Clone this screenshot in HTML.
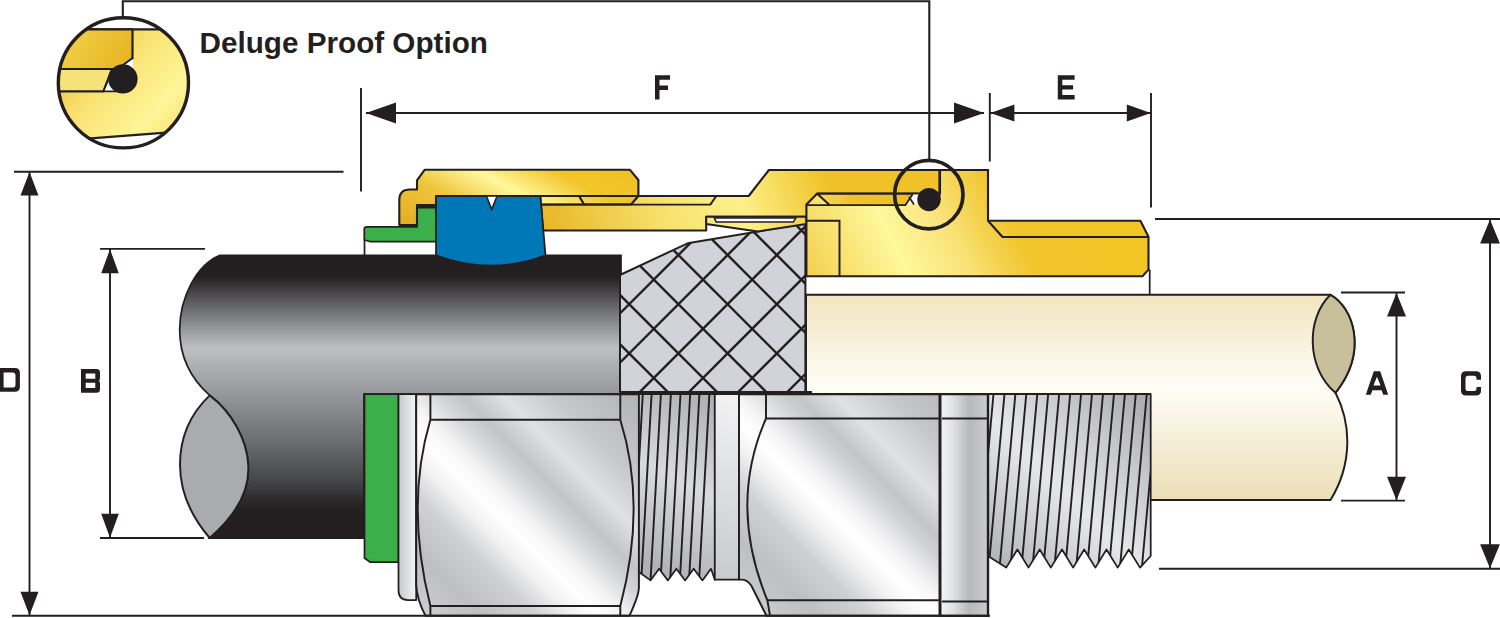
<!DOCTYPE html>
<html><head><meta charset="utf-8"><title>Cable gland</title>
<style>html,body{margin:0;padding:0;background:#fff;}body{width:1500px;height:618px;overflow:hidden;font-family:"Liberation Sans",sans-serif;}svg{display:block}</style>
</head><body>
<svg width="1500" height="618" viewBox="0 0 1500 618">

<defs>
<linearGradient id="gCable" x1="0" y1="255" x2="0" y2="538" gradientUnits="userSpaceOnUse">
 <stop offset="0" stop-color="#231f20"/><stop offset="0.075" stop-color="#231f20"/>
 <stop offset="0.2" stop-color="#727376"/>
 <stop offset="0.328" stop-color="#bdbfc1"/>
 <stop offset="0.477" stop-color="#9a9b9e"/><stop offset="0.656" stop-color="#6d6e71"/>
 <stop offset="0.80" stop-color="#454547"/><stop offset="0.87" stop-color="#2a2829"/>
 <stop offset="0.905" stop-color="#231f20"/><stop offset="1" stop-color="#231f20"/>
</linearGradient>
<linearGradient id="gCream" x1="0" y1="294" x2="0" y2="500" gradientUnits="userSpaceOnUse">
 <stop offset="0" stop-color="#f1e4c0"/><stop offset="0.45" stop-color="#fffdf6"/>
 <stop offset="1" stop-color="#ebdfb6"/>
</linearGradient>
<linearGradient id="gGold1" x1="400" y1="225" x2="473.8" y2="83" gradientUnits="userSpaceOnUse">
 <stop offset="0" stop-color="#e3ad1d"/><stop offset="0.3" stop-color="#efc53c"/><stop offset="0.52" stop-color="#fff89c"/>
 <stop offset="0.74" stop-color="#f2c62a"/><stop offset="1" stop-color="#f0c023"/>
</linearGradient>
<linearGradient id="gGold2" x1="540" y1="250" x2="820" y2="160" gradientUnits="userSpaceOnUse">
 <stop offset="0" stop-color="#e6b31f"/><stop offset="0.45" stop-color="#f8e26f"/>
 <stop offset="0.7" stop-color="#fdf08a"/><stop offset="1" stop-color="#f0c228"/>
</linearGradient>
<linearGradient id="gGold3" x1="780" y1="330" x2="1150" y2="150" gradientUnits="userSpaceOnUse">
 <stop offset="0" stop-color="#eec02a"/><stop offset="0.12" stop-color="#f3d050"/>
 <stop offset="0.34" stop-color="#fff89c"/><stop offset="0.47" stop-color="#f9e37a"/>
 <stop offset="0.62" stop-color="#f1c52d"/><stop offset="1" stop-color="#f2c620"/>
</linearGradient>
<linearGradient id="gStrip" x1="817" y1="0" x2="912" y2="0" gradientUnits="userSpaceOnUse">
 <stop offset="0" stop-color="#f6da5e"/><stop offset="0.35" stop-color="#f0c32c"/><stop offset="1" stop-color="#eebd25"/>
</linearGradient>
<linearGradient id="gGoldC" x1="60" y1="20" x2="190" y2="140" gradientUnits="userSpaceOnUse">
 <stop offset="0" stop-color="#e7b522"/><stop offset="0.45" stop-color="#f9e375"/>
 <stop offset="0.75" stop-color="#fff599"/><stop offset="1" stop-color="#f6dc62"/>
</linearGradient>
<linearGradient id="gGoldCd" x1="60" y1="30" x2="135" y2="70" gradientUnits="userSpaceOnUse">
 <stop offset="0" stop-color="#f3d24a"/><stop offset="1" stop-color="#e5b11f"/>
</linearGradient>
<linearGradient id="gSil1" x1="418" y1="613" x2="640" y2="391" gradientUnits="userSpaceOnUse">
 <stop offset="0" stop-color="#cdcecf"/><stop offset="0.14" stop-color="#bdbfc1"/>
 <stop offset="0.26" stop-color="#d0d1d3"/><stop offset="0.35" stop-color="#f4f4f5"/><stop offset="0.405" stop-color="#ffffff"/>
 <stop offset="0.46" stop-color="#f4f4f5"/><stop offset="0.54" stop-color="#d2d3d5"/><stop offset="0.59" stop-color="#c3c4c6"/>
 <stop offset="0.68" stop-color="#e0e1e2"/><stop offset="0.80" stop-color="#c6c7c9"/>
 <stop offset="1" stop-color="#b0b2b5"/>
</linearGradient>
<linearGradient id="gSil2" x1="752" y1="613" x2="974" y2="391" gradientUnits="userSpaceOnUse">
 <stop offset="0" stop-color="#cdcecf"/><stop offset="0.14" stop-color="#bdbfc1"/>
 <stop offset="0.26" stop-color="#d0d1d3"/><stop offset="0.35" stop-color="#f4f4f5"/><stop offset="0.405" stop-color="#ffffff"/>
 <stop offset="0.46" stop-color="#f4f4f5"/><stop offset="0.54" stop-color="#d2d3d5"/><stop offset="0.59" stop-color="#c3c4c6"/>
 <stop offset="0.68" stop-color="#e0e1e2"/><stop offset="0.80" stop-color="#c6c7c9"/>
 <stop offset="1" stop-color="#b0b2b5"/>
</linearGradient>
<linearGradient id="gSil2r" x1="941" y1="0" x2="988" y2="0" gradientUnits="userSpaceOnUse">
 <stop offset="0" stop-color="#f4f4f5"/><stop offset="0.25" stop-color="#e0e1e2"/><stop offset="0.6" stop-color="#b6b8ba"/><stop offset="1" stop-color="#cbccce"/>
</linearGradient>
<linearGradient id="gStripS" x1="739" y1="394" x2="715" y2="580" gradientUnits="userSpaceOnUse">
 <stop offset="0" stop-color="#f3f3f4"/><stop offset="0.5" stop-color="#dddee0"/><stop offset="1" stop-color="#c9cacc"/>
</linearGradient>
<linearGradient id="gThr1" x1="639" y1="560" x2="715" y2="400" gradientUnits="userSpaceOnUse">
 <stop offset="0" stop-color="#b0b2b5"/><stop offset="0.5" stop-color="#d9dadb"/><stop offset="1" stop-color="#aeb0b3"/>
</linearGradient>
<linearGradient id="gThr2" x1="988" y1="560" x2="1150" y2="400" gradientUnits="userSpaceOnUse">
 <stop offset="0" stop-color="#b0b2b5"/><stop offset="0.45" stop-color="#e6e7e8"/><stop offset="1" stop-color="#a9abae"/>
</linearGradient>
<linearGradient id="gWash" x1="398" y1="0" x2="431" y2="0" gradientUnits="userSpaceOnUse">
 <stop offset="0" stop-color="#c4c6c8"/><stop offset="0.5" stop-color="#f1f1f2"/><stop offset="1" stop-color="#d6d7d9"/>
</linearGradient>
<clipPath id="cBraid"><path d="M620,275 L687.6,243.3 L805.4,223.6 L805.4,392 L620,392 Z"/></clipPath>
<clipPath id="cBig"><circle cx="123.4" cy="82.8" r="65.1"/></clipPath>
<clipPath id="cThr1"><path id="pThr1" d="M639,394 L714.8,394 L714.8,579.6 L711.0,568.8 L702.4,580.4 L693.7,568.8 L685.1,580.4 L676.4,568.8 L667.8,580.4 L659.1,568.8 L650.5,580.4 L639,572 Z"/></clipPath>
<clipPath id="cThr2"><path id="pThr2" d="M988,394 L1150.7,394 L1150.7,556 L1140.0,567.6 L1128.8,549.5 L1117.7,567.6 L1106.5,549.5 L1095.4,567.6 L1084.2,549.5 L1073.1,567.6 L1062.0,549.5 L1050.8,567.6 L1039.7,549.5 L1028.5,567.6 L1017.4,549.5 L1006.2,567.6 L988,556 Z"/></clipPath>
</defs>

<rect x="0" y="0" width="1500" height="618" fill="#fff"/>
<path d="M806,294.8 L1330.5,294.8 C1354,308 1368,352 1335.5,392.8 C1352,425 1352,465 1330.5,500 L1150,500 L1150,394 L806,394 Z" fill="url(#gCream)" stroke="#231f20" stroke-width="1.95" stroke-linejoin="round"/>
<path d="M1330.5,294.8 C1306,318 1306,368 1335.5,392.8 C1368,352 1354,308 1330.5,294.8 Z" fill="#c8c09b" stroke="#231f20" stroke-width="1.95" stroke-linejoin="round"/>
<path d="M220,255.3 L621,255.3 L621,394 L364,394 L364,538 L209.7,538 C236,515 250,490 248.2,464.7 C247,440 232,412 209.7,395.4 C190,378 179.5,355 179.7,329 C180,298 196,265 220,255.3 Z" fill="url(#gCable)" stroke="#231f20" stroke-width="1.75"/>
<path d="M209.7,395.4 C186,418 180,445 180,464.7 C180,490 190,515 209.7,538 C236,515 250,490 248.2,464.7 C247,440 232,412 209.7,395.4 Z" fill="#a9abae" stroke="#231f20" stroke-width="1.95" stroke-linejoin="round"/>
<path d="M620,275 L687.6,243.3 L805.4,223.6 L805.4,392 L620,392 Z" fill="#d2d3d9" stroke="#231f20" stroke-width="2" stroke-linejoin="round"/>
<g clip-path="url(#cBraid)" stroke="#231f20" stroke-width="2.4" fill="none">
<path d="M487.4,200 L287.4,400"/>
<path d="M328.2,200 L528.2,400"/>
<path d="M536.6,200 L336.6,400"/>
<path d="M377.4,200 L577.4,400"/>
<path d="M585.8,200 L385.8,400"/>
<path d="M426.6,200 L626.6,400"/>
<path d="M635.0,200 L435.0,400"/>
<path d="M475.8,200 L675.8,400"/>
<path d="M684.2,200 L484.2,400"/>
<path d="M525.0,200 L725.0,400"/>
<path d="M733.4,200 L533.4,400"/>
<path d="M574.2,200 L774.2,400"/>
<path d="M782.6,200 L582.6,400"/>
<path d="M623.4,200 L823.4,400"/>
<path d="M831.8,200 L631.8,400"/>
<path d="M672.6,200 L872.6,400"/>
<path d="M881.0,200 L681.0,400"/>
<path d="M721.8,200 L921.8,400"/>
<path d="M930.2,200 L730.2,400"/>
<path d="M771.0,200 L971.0,400"/>
<path d="M979.4,200 L779.4,400"/>
<path d="M820.2,200 L1020.2,400"/>
<path d="M1028.6,200 L828.6,400"/>
<path d="M869.4,200 L1069.4,400"/>
<path d="M1077.8,200 L877.8,400"/>
<path d="M918.6,200 L1118.6,400"/>
<path d="M1127.0,200 L927.0,400"/>
<path d="M967.8,200 L1167.8,400"/>
</g>
<path d="M620,392.6 L812,392.6" stroke="#231f20" stroke-width="3.2"/>
<path d="M364.3,229 Q364.3,226.9 367,226.9 L417,226.9 L417,207.7 L436,207.7 L436,241.5 L370,241.5 L364.3,240 Z" fill="#3bb04a" stroke="#231f20" stroke-width="1.75" stroke-linejoin="round"/>
<path d="M364.5,240 L364.5,255.3" stroke="#231f20" stroke-width="1.75"/>
<path d="M424.6,169.8 L630,169.8 L638.4,180 L638.4,196 L631,204.6 L584,204.6 L579,196 L436,196 L436,205 L417,205 L417,225 L399.3,225 L399.3,200 Q399.3,189.5 410,189.5 L417,189.5 L417,180.3 Z" fill="url(#gGold1)" stroke="#231f20" stroke-width="2.1" stroke-linejoin="round"/>
<path d="M417,205 L436,205 L436,207.7 L417,207.7 Z" fill="#231f20"/>
<path d="M540.3,196 L579,196 L584,204.6 L541,204.6 Z" fill="url(#gGold1)" stroke="#231f20" stroke-width="1.95" stroke-linejoin="round"/>
<path d="M579,196 L638.4,196" stroke="#231f20" stroke-width="1.95"/>
<path d="M541,204.6 L631,204.6 L638.4,196 L716.3,196 L748.7,196 L768.9,170 L988,170 L988,220.8 L1002.5,237 L806.4,237 L806.4,216.8 L706.2,216.8 L706.2,230.5 L543,230.5 Z" fill="url(#gGold2)" stroke="#231f20" stroke-width="2.1" stroke-linejoin="round"/>
<path d="M631,204.6 L710.3,204.6 L716.3,196" fill="none" stroke="#231f20" stroke-width="1.95" stroke-linejoin="round"/>
<path d="M706.2,216.8 L806.4,216.8 L806.4,224 L757.8,231.5 L706.2,224 Z" fill="url(#gGold2)" stroke="#231f20" stroke-width="1.95" stroke-linejoin="round"/>
<path d="M714.3,217.9 L796,217.9 L793.5,221.9 L716,221.9 Z" fill="#fff" stroke="#231f20" stroke-width="1.5" stroke-linejoin="round"/>
<path d="M806.4,204.6 L817.2,193.5 L900,193.5 L940,193.5 L940,170 L988,170 L988,220.8 L1140.4,220.8 L1148.5,236.7 L1148.5,269.6 L1142.5,276.3 L806.4,276.3 Z" fill="url(#gGold3)" stroke="#231f20" stroke-width="2.1" stroke-linejoin="round"/>
<path d="M817.2,193.7 L912,193.7 L905,205.1 L829.6,205.1 Z" fill="url(#gStrip)" stroke="none"/>
<path d="M817.2,193.7 L829.6,205 M806.4,205.1 L906,205.1 M817.2,193.7 L918,193.7" fill="none" stroke="#231f20" stroke-width="1.95"/>
<path d="M988,220.8 L1002.5,237 L1148.5,237" fill="none" stroke="#231f20" stroke-width="2.1" stroke-linejoin="round"/>
<path d="M806.4,220.8 L839.5,220.8 L839.5,276" fill="none" stroke="#231f20" stroke-width="1.95"/>
<path d="M1149.7,269.6 L1149.7,294.4" stroke="#231f20" stroke-width="1.75"/>
<path d="M939.4,170 L939.4,200" stroke="#231f20" stroke-width="2"/>
<path d="M912.5,194.5 L919,194.5 L919,204.3 L906.5,204.3 Z" fill="#fff"/>
<path d="M905.5,205 L912.8,194 M909,197 L914,204.5" stroke="#231f20" stroke-width="1.75" fill="none"/>
<circle cx="929" cy="199.6" r="11.7" fill="#231f20"/>
<circle cx="928.8" cy="194.6" r="34.2" fill="none" stroke="#231f20" stroke-width="3.7"/>
<path d="M436,196 L486.7,196 L491.7,209.7 L496.8,196 L540.3,196 L545.5,255.3 Q491.7,276 436,255.3 Z" fill="#0078b7" stroke="#231f20" stroke-width="1.75" stroke-linejoin="round"/>
<path d="M487.5,196.8 L496,196.8 L491.7,206 Z" fill="#fff"/>
<path d="M364.5,394.2 L398.5,394.2 L398.5,562 L370,562 L364.5,558 Z" fill="#3bb04a" stroke="#231f20" stroke-width="1.75" stroke-linejoin="round"/>
<path d="M398.5,394.2 L416.2,394.2 L416.2,600 L408,600 Q398.5,600 398.5,590 Z" fill="url(#gWash)" stroke="#231f20" stroke-width="1.75" stroke-linejoin="round"/>
<path d="M416.2,394.2 L638.9,394.2 L638.9,588 Q638.5,596 629.5,615.7 L425.5,615.7 Q417,600 416.2,585 Z" fill="url(#gSil1)" stroke="#231f20" stroke-width="1.95" stroke-linejoin="round"/>
<path d="M430.4,394.2 L430.4,419.7 L620.3,419.7 L620.3,394.2 M430.4,419.7 Q405,505 430.4,606 L620.3,606 Q647,505 620.3,419.7 M430.4,606 L430.4,615.7 M620.3,606 L620.3,615.7" fill="none" stroke="#231f20" stroke-width="1.95" stroke-linejoin="round"/>
<path d="M639,394 L714.8,394 L714.8,579.6 L711.0,568.8 L702.4,580.4 L693.7,568.8 L685.1,580.4 L676.4,568.8 L667.8,580.4 L659.1,568.8 L650.5,580.4 L639,572 Z" fill="url(#gThr1)" stroke="#231f20" stroke-width="1.75" stroke-linejoin="round"/>
<g clip-path="url(#cThr1)" stroke="#231f20" stroke-width="1.9" fill="none">
<path d="M642.8,394 L632.2,585"/>
<path d="M651.6,394 L641.0,585"/>
<path d="M660.9,394 L650.3,585"/>
<path d="M670.9,394 L660.3,585"/>
<path d="M680.5,394 L669.9,585"/>
<path d="M690.2,394 L679.6,585"/>
<path d="M699.4,394 L688.8,585"/>
<path d="M709.4,394 L698.8,585"/>
</g>
<path d="M714.8,394.2 L739,394.2 L739,579.6 L714.8,579.6 Z" fill="url(#gStripS)" stroke="#231f20" stroke-width="1.75" stroke-linejoin="round"/>
<path d="M739,394.2 L988,394.2 L988,615.7 L766.5,615.7 L753,589 Q749,580 742.6,579.6 L739,579.6 Z" fill="url(#gSil2)" stroke="#231f20" stroke-width="1.95" stroke-linejoin="round"/>
<path d="M766,394.2 L766,418.5 L938.8,418.5 M766,418.5 Q728,505 767.4,600.3 L938.8,600.3 M767.4,600.3 L770,615.7" fill="none" stroke="#231f20" stroke-width="1.95" stroke-linejoin="round"/>
<path d="M940,394.2 L988,394.2 L988,615.7 L940,615.7 Z" fill="url(#gSil2r)" stroke="#231f20" stroke-width="1.95"/>
<path d="M942,418.5 L988,418.5 M942,601.5 L988,601.5" fill="none" stroke="#231f20" stroke-width="1.95"/>
<path d="M940,394.2 L940,615.7" stroke="#231f20" stroke-width="3"/>
<path d="M988,394 L1150.7,394 L1150.7,556 L1140.0,567.6 L1128.8,549.5 L1117.7,567.6 L1106.5,549.5 L1095.4,567.6 L1084.2,549.5 L1073.1,567.6 L1062.0,549.5 L1050.8,567.6 L1039.7,549.5 L1028.5,567.6 L1017.4,549.5 L1006.2,567.6 L988,556 Z" fill="url(#gThr2)" stroke="#231f20" stroke-width="1.75" stroke-linejoin="round"/>
<g clip-path="url(#cThr2)" stroke="#231f20" stroke-width="1.9" fill="none">
<path d="M993.5,394 L977.0,575"/>
<path d="M1004.5,394 L988.0,575"/>
<path d="M1015.4,394 L998.9,575"/>
<path d="M1026.3,394 L1009.8,575"/>
<path d="M1037.3,394 L1020.8,575"/>
<path d="M1048.2,394 L1031.8,575"/>
<path d="M1059.2,394 L1042.7,575"/>
<path d="M1070.2,394 L1053.7,575"/>
<path d="M1081.1,394 L1064.6,575"/>
<path d="M1092.0,394 L1075.5,575"/>
<path d="M1103.0,394 L1086.5,575"/>
<path d="M1114.0,394 L1097.5,575"/>
<path d="M1124.9,394 L1108.4,575"/>
<path d="M1135.8,394 L1119.3,575"/>
<path d="M1146.8,394 L1130.3,575"/>
<path d="M1157.8,394 L1141.2,575"/>
<path d="M1168.7,394 L1152.2,575"/>
</g>
<path d="M988,394.2 L988,616.5" stroke="#231f20" stroke-width="2.4"/>
<g clip-path="url(#cBig)">
<rect x="50" y="10" width="150" height="150" fill="#fff"/>
<path d="M50,29.4 L200,29.4 L200,130 L50,141.4 Z" fill="url(#gGoldC)" stroke="#231f20" stroke-width="2.2"/>
<path d="M50,29.4 L132.5,29.4 L132.5,58.5 L120,69 L50,69 Z" fill="url(#gGoldCd)" stroke="#231f20" stroke-width="2.2" stroke-linejoin="round"/>
<path d="M50,69 L112,69 L103.4,91.4 L50,91.4 Z" fill="#f7e27a" stroke="#231f20" stroke-width="2.2" stroke-linejoin="round"/>
<path d="M132.5,58.5 L124,65 L133.3,69 Z" fill="#fff"/>
<path d="M132.5,58 L121,66.5" fill="none" stroke="#231f20" stroke-width="1.95"/>
<path d="M103.4,91.4 L110,76 L120,91.4 Z" fill="#fff" stroke="#231f20" stroke-width="1.75" stroke-linejoin="round"/>
<circle cx="122.9" cy="78.9" r="14.7" fill="#231f20"/>
</g>
<circle cx="123.4" cy="82.8" r="65.1" fill="none" stroke="#231f20" stroke-width="3.4"/>
<path d="M122.8,17 L122.8,1.3 L929.3,1.3 L929.3,159" fill="none" stroke="#231f20" stroke-width="2.1"/>
<path d="M14,171.8 L343.5,171.8 M29.5,171.8 L29.5,615.7 M12,615.7 L990,615.7" fill="none" stroke="#231f20" stroke-width="1.9"/>
<path d="M29.5,172.0 L38.5,195.5 L20.5,195.5 Z" fill="#231f20"/>
<path d="M29.5,615.3 L20.5,591.8 L38.5,591.8 Z" fill="#231f20"/>
<path d="M100,248.9 L205,248.9 M110,248.9 L110,538 M100,538 L204,538" fill="none" stroke="#231f20" stroke-width="1.9"/>
<path d="M110.0,249.3 L118.8,273.3 L101.2,273.3 Z" fill="#231f20"/>
<path d="M110.0,537.7 L101.2,513.7 L118.8,513.7 Z" fill="#231f20"/>
<path d="M361,88 L361,191.5 M366,113 L984,113" fill="none" stroke="#231f20" stroke-width="1.9"/>
<path d="M366.0,113.0 L396.0,102.5 L396.0,123.5 Z" fill="#231f20"/>
<path d="M984.0,113.0 L954.0,123.5 L954.0,102.5 Z" fill="#231f20"/>
<path d="M989.8,93 L989.8,161.6 M1151,93 L1151,207.5 M990,113 L1151,113" fill="none" stroke="#231f20" stroke-width="1.9"/>
<path d="M990.4,113.0 L1014.4,104.5 L1014.4,121.5 Z" fill="#231f20"/>
<path d="M1150.8,113.0 L1126.8,121.5 L1126.8,104.5 Z" fill="#231f20"/>
<path d="M1341,292.5 L1405,292.5 M1341,500.6 L1405,500.6 M1396.5,292.5 L1396.5,500.6" fill="none" stroke="#231f20" stroke-width="1.9"/>
<path d="M1396.5,293.0 L1406.0,316.5 L1387.0,316.5 Z" fill="#231f20"/>
<path d="M1396.5,500.3 L1387.0,476.8 L1406.0,476.8 Z" fill="#231f20"/>
<path d="M1155,219 L1500,219 M1159,568.7 L1500,568.7 M1490,219 L1490,568.7" fill="none" stroke="#231f20" stroke-width="1.9"/>
<path d="M1490.0,219.5 L1499.9,243.5 L1480.1,243.5 Z" fill="#231f20"/>
<path d="M1490.0,568.3 L1480.1,544.3 L1499.9,544.3 Z" fill="#231f20"/>
<path transform="translate(-0.8,368.0)" d="M0,0 H15.7 Q20.7,0 20.7,5 V18.8 Q20.7,23.8 15.7,23.8 H0 Z M4.4,4.4 V19.4 H13.799999999999997 Q16.299999999999997,19.4 16.299999999999997,16.9 V6.9 Q16.299999999999997,4.4 13.799999999999997,4.4 Z" fill="#231f20" fill-rule="evenodd"/>
<path transform="translate(81.0,368.9)" d="M0,0 H15.5 Q19,0 19,3.5 V8.9 Q19,11.9 17.8,11.9 Q19,11.9 19,14.9 V20.3 Q19,23.8 15.5,23.8 H0 Z M4.7,4.7 V9.850000000000001 H14.3 V4.7 Z M4.7,13.95 V19.1 H14.3 V13.95 Z" fill="#231f20" fill-rule="evenodd"/>
<path transform="translate(655.0,75.3)" d="M0,0 H15 V4.5 H4.5 V10.25 H13 V14.75 H4.5 V24.2 H0 Z" fill="#231f20" fill-rule="evenodd"/>
<path transform="translate(1057.8,75.3)" d="M0,0 H16.8 V4.5 H4.5 V10.049999999999999 H15.3 V14.15 H4.5 V19.7 H16.8 V24.2 H0 Z" fill="#231f20" fill-rule="evenodd"/>
<path transform="translate(1365.8,371.2)" d="M7.999999999999999,0 H14.399999999999999 L22.4,23.6 H17.4 L15.799999999999999,19.0 H6.6 L5,23.6 H0 Z M11.2,5.5 L7.6,14.400000000000002 H14.799999999999999 Z" fill="#231f20" fill-rule="evenodd"/>
<path transform="translate(1461.0,371.2)" d="M5,0 H15 Q20,0 20,5 V8.5 H15.5 V7.0 Q15.5,4.5 13.0,4.5 H7.0 Q4.5,4.5 4.5,7.0 V17.4 Q4.5,19.9 7.0,19.9 H13.0 Q15.5,19.9 15.5,17.4 V15.899999999999999 H20 V19.4 Q20,24.4 15,24.4 H5 Q0,24.4 0,19.4 V5 Q0,0 5,0 Z" fill="#231f20" fill-rule="evenodd"/>
<text x="199.6" y="53.1" font-family="Liberation Sans, sans-serif" font-weight="bold" font-size="29" textLength="288.3" lengthAdjust="spacingAndGlyphs" fill="#231f20">Deluge Proof Option</text>
</svg>
</body></html>
